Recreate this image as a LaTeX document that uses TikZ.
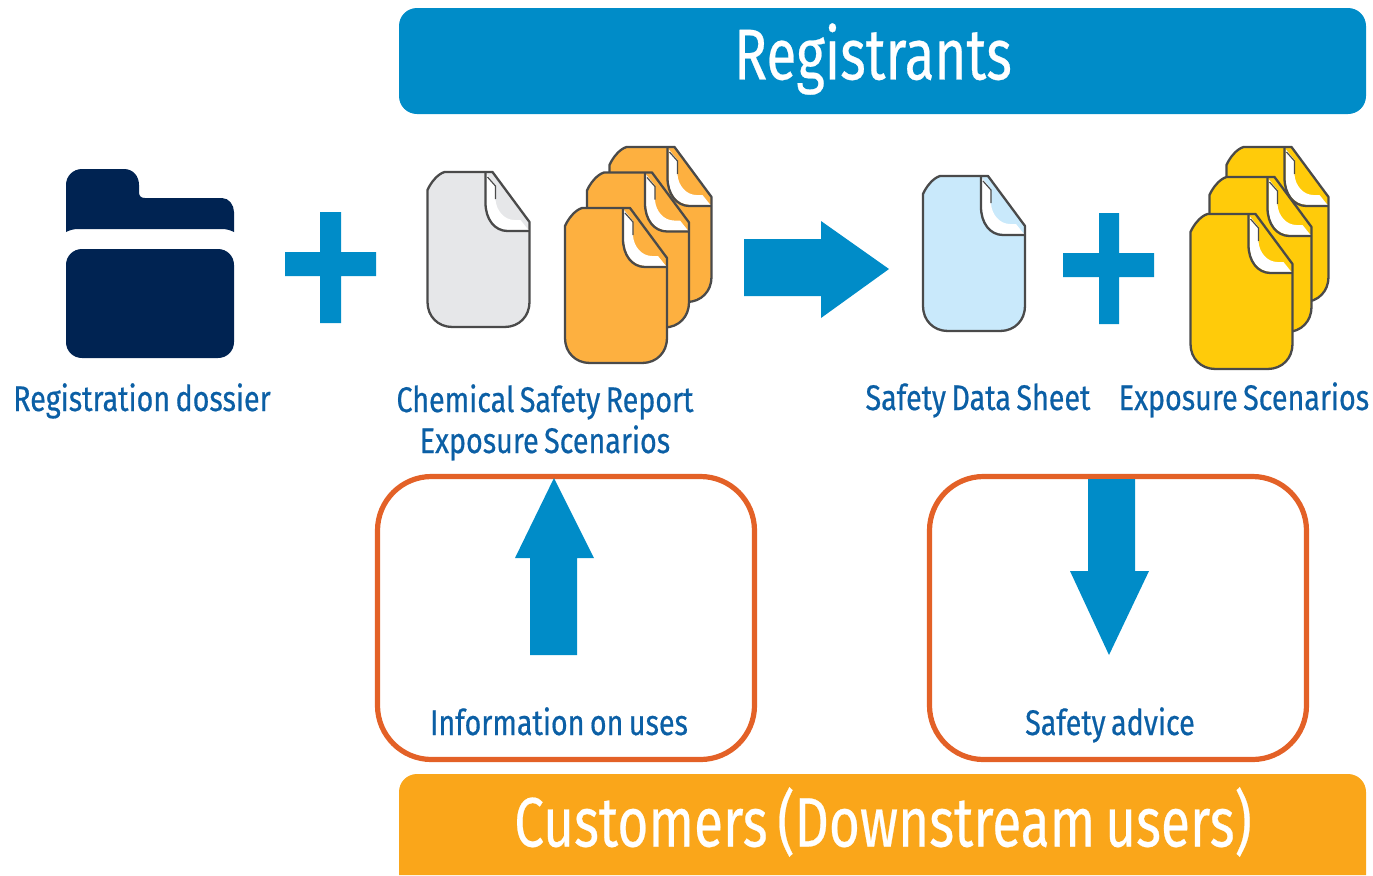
\documentclass[tikz,border=0pt]{standalone}
\usepackage{fontspec}
\setmainfont[FakeStretch=0.76,WordSpace=0.7,FakeBold=0.35]{Fira Sans}
\newfontfamily\captionfont[FakeStretch=0.805,WordSpace=0.72,FakeBold=0.5]{Fira Sans}
\definecolor{brandblue}{HTML}{008CC8}
\definecolor{banneramber}{HTML}{FAA61A}
\definecolor{navy}{HTML}{002352}
\definecolor{boxred}{HTML}{E36127}
\definecolor{labelblue}{HTML}{0B5FA5}
\definecolor{docgray}{HTML}{E6E7E9}
\definecolor{docorange}{HTML}{FDB040}
\definecolor{docsky}{HTML}{C9E9FB}
\definecolor{docyellow}{HTML}{FFCB0A}
\definecolor{docline}{HTML}{4A4A4A}
\tikzset{
  banner/.style={fill=brandblue,draw=none},
  mark shape/.style={fill=brandblue,draw=none},
  usebox/.style={draw=boxred,line width=2.6pt,rounded corners=27pt,outer sep=0pt,inner sep=0pt,
    minimum width=188.5pt,minimum height=141.5pt,anchor=north west},
  dossier/.style={fill=navy,draw=none},
  doc outline/.style={draw=docline,line width=1.15pt,line join=round},
  caption/.style={text=labelblue,font=\captionfont\fontsize{17.8}{21}\selectfont,inner sep=0pt,align=center,anchor=base},
  bigtitle/.style={text=white,font=\fontsize{36}{40}\selectfont,inner sep=0pt}
}
\newcommand{\paperdoc}[3]{%
  \begin{scope}[shift={(#1,#2)}]
    \path[doc outline,fill=#3] (0,18) .. controls (3,11) and (10,2) .. (17,0) -- (65,0) -- (102,50) -- (102,130)
      .. controls (102,144) and (92,155) .. (77,155) -- (25,155)
      .. controls (10,155) and (0,144) .. (0,130) -- cycle;
    % white band of the folded corner
    \path[fill=white] (59,2) -- (68,13) -- (68,28) .. controls (69,39) and (77,48) .. (87,48)
      -- (93,48) -- (101,58) -- (80,58) .. controls (67,57) and (59,46) .. (59,31) -- cycle;
    % shadow on the inner edge, near the top
    \path[draw=docline,line width=0.6pt] (60,5) -- (68,14) -- (68,27);
    % outer edge of the fold
    \path[doc outline] (58,0) -- (58,31) .. controls (58,47) and (67,59) .. (80,59) -- (102,59);
  \end{scope}}
\begin{document}
\begin{tikzpicture}[x=0.5pt,y=-0.5pt]
\useasboundingbox (0,0) rectangle (1373,875);

% banners
\path[banner] (399,26) .. controls (399,16) and (407,8) .. (417,8) -- (1348,8)
  .. controls (1358,8) and (1366,16) .. (1366,26) -- (1366,96)
  .. controls (1366,106) and (1358,114) .. (1348,114) -- (417,114)
  .. controls (407,114) and (399,106) .. (399,96) -- cycle;
\node[bigtitle] (registrants) at (873,59) {Registrants};
\path[fill=banneramber] (399,792) .. controls (399,782) and (407,774) .. (417,774) -- (1348,774)
  .. controls (1358,774) and (1366,782) .. (1366,792) -- (1366,875) -- (399,875) -- cycle;
\node[bigtitle,font=\fontsize{35}{40}\selectfont] (customers) at (883,822) {Customers (Downstream users)};

% folder
\path[dossier] (66,232) -- (66,185) .. controls (66,176) and (73,169) .. (82,169) -- (124,169)
  .. controls (133,169) and (139,176) .. (139,185) -- (139,192) .. controls (139,196) and (141,198) .. (145,198)
  -- (222,198) .. controls (229,198) and (234,205) .. (234,212) -- (234,232)
  .. controls (230,230) and (226,229) .. (222,229) -- (78,229) .. controls (74,229) and (70,230) .. (66,232) -- cycle;
\path[dossier] (66,265) .. controls (66,256) and (73,249) .. (82,249) -- (218,249)
  .. controls (227,249) and (234,256) .. (234,265) -- (234,342)
  .. controls (234,351) and (227,358) .. (218,358) -- (82,358)
  .. controls (73,358) and (66,351) .. (66,342) -- cycle;

% plus signs
\path[mark shape] (320,212) -- (341,212) -- (341,252) -- (376,252) -- (376,276) -- (341,276) -- (341,323)
  -- (320,323) -- (320,276) -- (285,276) -- (285,252) -- (320,252) -- cycle;
\path[mark shape] (1099,213) -- (1119,213) -- (1119,253) -- (1154,253) -- (1154,277) -- (1119,277) -- (1119,324)
  -- (1099,324) -- (1099,277) -- (1063,277) -- (1063,253) -- (1099,253) -- cycle;

% documents
\paperdoc{427.5}{172}{docgray}
\paperdoc{609.5}{147}{docorange}
\paperdoc{587}{172.5}{docorange}
\paperdoc{565}{208}{docorange}
\paperdoc{923}{176}{docsky}
\paperdoc{1226.5}{147}{docyellow}
\paperdoc{1209.5}{177}{docyellow}
\paperdoc{1190.5}{214}{docyellow}

% big arrows
\path[mark shape] (744,239) -- (821,239) -- (821,221) -- (889,269) -- (821,318) -- (821,296) -- (744,296) -- cycle;

% use boxes
\node[usebox] (infobox) at (377.5,476.5) {};
\node[usebox] (advicebox) at (929.5,476.5) {};

\path[mark shape] (554,478) -- (594,558) -- (577,558) -- (577,655) -- (530,655) -- (530,558) -- (515,558) -- cycle;
\path[mark shape] (1088,479) -- (1135,479) -- (1135,571) -- (1149,571) -- (1109,655) -- (1070,571) -- (1088,571) -- cycle;

% captions
\node[caption] (dossiertext) at (142,411) {Registration dossier};
\node[caption] (csrtext) at (545,453) {Chemical Safety Report\\[-0.5pt]Exposure Scenarios};
\node[caption] (sdstext) at (978,410) {Safety Data Sheet};
\node[caption] (estext) at (1244,410) {Exposure Scenarios};
\node[caption] (infotext) at (559,735) {Information on uses};
\node[caption] (advicetext) at (1110,735) {Safety advice};
\end{tikzpicture}
\end{document}
